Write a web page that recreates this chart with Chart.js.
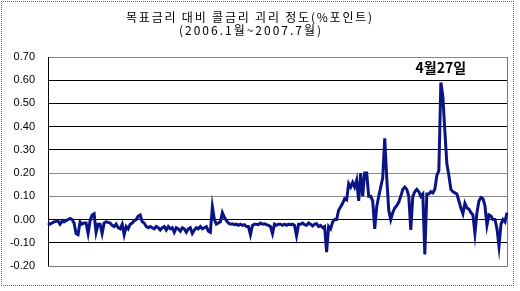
<!DOCTYPE html>
<html>
<head>
<meta charset="utf-8">
<script src="https://cdn.jsdelivr.net/npm/chart.js@4/dist/chart.umd.min.js"></script>
<style>
    html, body { margin: 0; padding: 0; background: #fff; }
    #wrap { position: relative; width: 520px; height: 291px; }
    #frame {
        position: absolute; left: 1px; top: 1px; width: 511px; height: 283px;
        border: 1px dotted #666; pointer-events: none;
    }
</style>
</head>
<body>
<div id="wrap">
    <canvas id="gap-chart" width="520" height="291"></canvas>
    <div id="frame"></div>
</div>
<script>
// chart text
const titleLines = ['목표금리 대비 콜금리 괴리 정도(%포인트)', '(2006.1월~2007.7월)'];
const peakLabel = '4월27일';

// y axis ticks (%p)
const yTicks = [-0.20, -0.10, 0.00, 0.10, 0.20, 0.30, 0.40, 0.50, 0.60, 0.70];

// daily gap, call rate minus target rate (%p), 2006.1 ~ 2007.7
const gapValues = [
    -0.015, -0.02, -0.015, -0.01, -0.008, -0.005, -0.02, -0.008, -0.01, -0.005,
    0.0, 0.005, 0.0, -0.015, -0.06, -0.065, -0.01, -0.02, -0.015, -0.015,
    -0.06, -0.005, 0.02, 0.025, -0.055, -0.02, -0.02, -0.06, -0.015, -0.01,
    -0.012, -0.015, -0.025, -0.03, -0.02, -0.035, -0.04, -0.02, -0.065, -0.03,
    -0.04, -0.02, -0.015, -0.005, 0.0, 0.015, 0.02, -0.01, -0.015, -0.03,
    -0.035, -0.03, -0.035, -0.04, -0.03, -0.035, -0.045, -0.035, -0.03, -0.045,
    -0.03, -0.04, -0.035, -0.055, -0.035, -0.04, -0.05, -0.035, -0.04, -0.055,
    -0.04, -0.035, -0.06, -0.045, -0.035, -0.04, -0.03, -0.04, -0.035, -0.03,
    -0.05, -0.055, 0.055, 0.0, -0.02, -0.015, -0.01, 0.03, 0.01, -0.005,
    -0.015, -0.02, -0.018, -0.022, -0.02, -0.025, -0.02, -0.025, -0.022, -0.03,
    -0.03, -0.065, -0.025, -0.02, -0.02, -0.022, -0.015, -0.02, -0.018, -0.022,
    -0.025, -0.03, -0.06, -0.02, -0.025, -0.02, -0.02, -0.025, -0.02, -0.025,
    -0.02, -0.022, -0.02, -0.025, -0.07, -0.02, -0.02, -0.015, -0.022, -0.025,
    -0.015, -0.02, -0.028, -0.02, -0.018, -0.03, -0.025, -0.035, -0.03, -0.14,
    -0.03, -0.04, -0.01, 0.0, 0.0, 0.04, 0.055, 0.07, 0.09, 0.085,
    0.155, 0.14, 0.16, 0.14, 0.17, 0.08, 0.2, 0.1, 0.2, 0.2,
    0.1, 0.1, 0.08, -0.04, 0.055, 0.1, 0.14, 0.18, 0.35, 0.18,
    0.04, 0.0, 0.03, 0.05, 0.06, 0.075, 0.1, 0.13, 0.14, 0.13,
    0.1, -0.045, 0.1, 0.12, 0.13, 0.12, 0.1, 0.11, -0.15, 0.11,
    0.11, 0.12, 0.115, 0.13, 0.19, 0.21, 0.59, 0.53, 0.38, 0.24,
    0.19, 0.13, 0.12, 0.115, 0.11, 0.08, 0.05, 0.025, 0.07, 0.05,
    0.045, 0.03, 0.02, -0.06, 0.03, 0.08, 0.095, 0.09, 0.06, -0.025,
    0.02, 0.015, 0.0, 0.0, -0.04, -0.115, -0.02, 0.0, -0.01, 0.03
];

const dayLabels = gapValues.map((v, i) => String(i + 1));

function gridColor(value) {
    // a few of the gridlines look grey in the original
    if (value >= 0.69 || Math.abs(value - 0.2) < 0.001 || Math.abs(value - 0.1) < 0.001) return '#8a8a8a';
    if (value <= -0.19) return '#666';
    return '#000';
}

// titles, chart area frame and the peak note
const textPlugin = {
    id: 'textPlugin',
    beforeDatasetsDraw(chart) {
        const ctx = chart.ctx;
        const a = chart.chartArea;
        ctx.save();
        ctx.strokeStyle = '#777';
        ctx.lineWidth = 1;
        ctx.beginPath();
        ctx.moveTo(a.left, a.bottom + 0.5);
        ctx.lineTo(a.right + 0.5, a.bottom + 0.5);
        ctx.lineTo(a.right + 0.5, a.top);
        ctx.stroke();
        ctx.restore();
    },
    afterDraw(chart) {
        const ctx = chart.ctx;
        ctx.save();
        ctx.fillStyle = '#000';
        ctx.textAlign = 'center';
        ctx.textBaseline = 'alphabetic';
        ctx.font = '12px "Noto Sans CJK KR"';
        if ('letterSpacing' in ctx) ctx.letterSpacing = '1.8px';
        ctx.fillText(titleLines[0], 250, 22);
        if ('letterSpacing' in ctx) ctx.letterSpacing = '2px';
        ctx.fillText(titleLines[1], 251, 35);

        // note above the highest point
        let peak = 0;
        gapValues.forEach((v, i) => { if (v > gapValues[peak]) peak = i; });
        const x = chart.scales.x.getPixelForValue(peak);
        if ('letterSpacing' in ctx) ctx.letterSpacing = '0px';
        ctx.font = 'bold 14px "Noto Sans CJK KR"';
        ctx.fillText(peakLabel, x, chart.chartArea.top + 16);
        ctx.restore();
    }
};

const chart = new Chart(document.getElementById('gap-chart').getContext('2d'), {
    type: 'line',
    data: {
        labels: dayLabels,
        datasets: [{
            data: gapValues,
            borderColor: '#0a1484',
            borderWidth: 3,
            pointRadius: 0,
            tension: 0,
            fill: false
        }]
    },
    options: {
        responsive: false,
        animation: false,
        events: [],
        layout: {
            padding: { top: 57, bottom: 25, left: 0, right: 13 }
        },
        scales: {
            x: {
                display: false,
                offset: false
            },
            y: {
                min: yTicks[0],
                max: yTicks[yTicks.length - 1],
                afterFit(scale) {
                    scale.width = 48;
                },
                afterBuildTicks(scale) {
                    scale.ticks = yTicks.map(v => ({ value: v }));
                },
                border: {
                    display: true,
                    color: '#000',
                    width: 1
                },
                grid: {
                    drawTicks: false,
                    lineWidth: 1,
                    color: ctx => gridColor(ctx.tick ? ctx.tick.value : 0)
                },
                ticks: {
                    padding: 13,
                    color: '#000',
                    font: { family: '"Liberation Sans", Arial', size: 11 },
                    callback: value => value.toFixed(2)
                }
            }
        },
        plugins: {
            legend: { display: false },
            tooltip: { enabled: false },
            title: { display: false }
        }
    },
    plugins: [textPlugin]
});
</script>
</body>
</html>
